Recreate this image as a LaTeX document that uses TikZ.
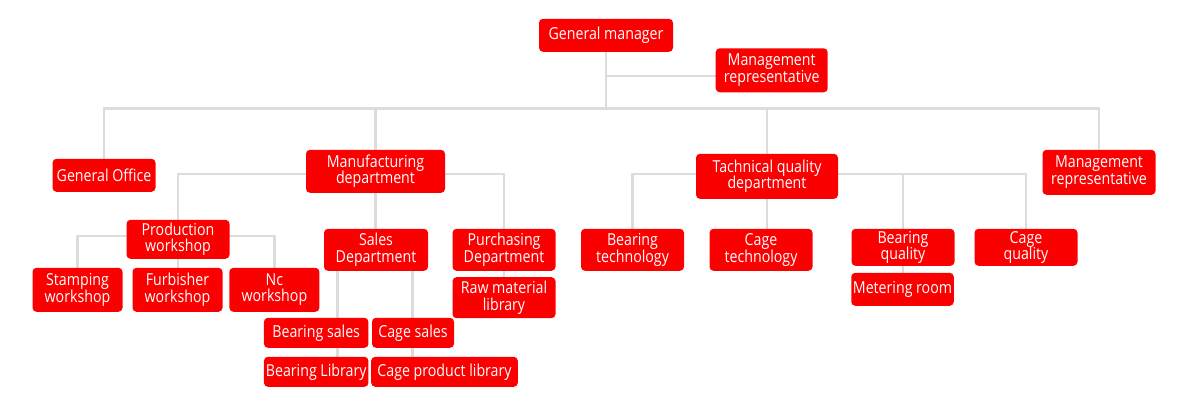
\documentclass[tikz,border=0pt]{standalone}
\usepackage{fontspec}
\setmainfont[FakeStretch=0.86]{Open Sans}
\usetikzlibrary{backgrounds}
\definecolor{orgred}{RGB}{250,0,0}
\definecolor{orgline}{RGB}{220,220,220}
\tikzset{
    unit/.style={rectangle, rounded corners=4pt, fill=orgred, text=white, align=center, inner sep=0pt, font=\fontsize{16.5}{16.5}\selectfont},
    link/.style={line width=2.8pt, orgline},
}

\begin{document}
\begin{tikzpicture}[x=1pt,y=-1pt]
    \useasboundingbox (0,0) rectangle (1200,416);
    \node[unit, minimum width=134pt, minimum height=33pt] (gm) at (606,35.3) {General manager};
    \node[unit, minimum width=112pt, minimum height=44pt] (rep1) at (771.7,70.3) {Management\\representative};
    \node[unit, minimum width=103pt, minimum height=33pt] (office) at (104,175.3) {General Office};
    \node[unit, minimum width=139pt, minimum height=43pt] (mfg) at (375.5,171.3) {Manufacturing\\department};
    \node[unit, minimum width=142pt, minimum height=45pt] (tech) at (767,176.3) {Tachnical quality\\department};
    \node[unit, minimum width=113pt, minimum height=45pt] (rep2) at (1099,172.3) {Management\\representative};
    \node[unit, minimum width=103pt, minimum height=39pt] (prod) at (178,239.3) {Production\\workshop};
    \node[unit, minimum width=90pt, minimum height=44pt] (stamp) at (77.5,289.8) {Stamping\\workshop};
    \node[unit, minimum width=90pt, minimum height=44pt] (furb) at (177.5,289.8) {Furbisher\\workshop};
    \node[unit, minimum width=90pt, minimum height=44pt] (nc) at (274.4,289.8) {Nc\\workshop};
    \node[unit, minimum width=104pt, minimum height=42pt] (sales) at (376,249.8) {Sales\\Department};
    \node[unit, minimum width=103pt, minimum height=42pt] (purch) at (504,249.8) {Purchasing\\Department};
    \node[unit, minimum width=103pt, minimum height=41pt] (raw) at (504,297.7) {Raw material\\library};
    \node[unit, minimum width=104.5pt, minimum height=30pt] (bsales) at (316.2,332.8) {Bearing sales};
    \node[unit, minimum width=82pt, minimum height=30pt] (csales) at (413,332.8) {Cage sales};
    \node[unit, minimum width=104.5pt, minimum height=30pt] (blib) at (316.2,371.8) {Bearing Library};
    \node[unit, minimum width=146.6pt, minimum height=30pt] (clib) at (444.5,371.8) {Cage product library};
    \node[unit, minimum width=103pt, minimum height=42pt] (btech) at (632.5,249.8) {Bearing\\technology};
    \node[unit, minimum width=103pt, minimum height=42pt] (ctech) at (761,249.8) {Cage\\technology};
    \node[unit, minimum width=103pt, minimum height=37pt] (bqual) at (903,247.3) {Bearing\\quality};
    \node[unit, minimum width=103pt, minimum height=37pt] (cqual) at (1026,247.3) {Cage\\quality};
    \node[unit, minimum width=102.5pt, minimum height=33pt] (meter) at (902.5,289.3) {Metering room};
    \begin{scope}[on background layer]
        \coordinate (repbus) at (0,76);
        \coordinate (bus) at (0,108.3);
        \coordinate (mbus) at (0,174);
        \coordinate (pbus) at (0,236);
        \coordinate (tbus) at (0,174);
        \coordinate (sL) at (337.5,0);
        \coordinate (sR) at (412.5,0);
        \draw[link] (gm) -- (gm |- bus);
        \draw[link] (gm |- repbus) -- (rep1 |- repbus);
        \draw[link] (office) -- (office |- bus) -- (rep2 |- bus) -- (rep2);
        \draw[link] (mfg |- bus) -- (mfg);
        \draw[link] (tech |- bus) -- (tech);
        \draw[link] (prod) -- (prod |- mbus) -- (purch |- mbus) -- (purch);
        \draw[link] (mfg) -- (mfg |- sales);
        \draw[link] (stamp) -- (stamp |- pbus) -- (nc |- pbus) -- (nc);
        \draw[link] (prod) -- (prod |- furb);
        \draw[link] (sales.south -| sL) -- (blib.north -| sL);
        \draw[link] (sales.south -| sR) -- (clib.north -| sR);
        \draw[link] (purch) -- (raw);
        \draw[link] (btech) -- (btech |- tbus) -- (cqual |- tbus) -- (cqual);
        \draw[link] (tech) -- (tech |- ctech);
        \draw[link] (bqual |- tbus) -- (bqual);
        \draw[link] (bqual) -- (bqual |- meter);
    \end{scope}
\end{tikzpicture}
\end{document}
